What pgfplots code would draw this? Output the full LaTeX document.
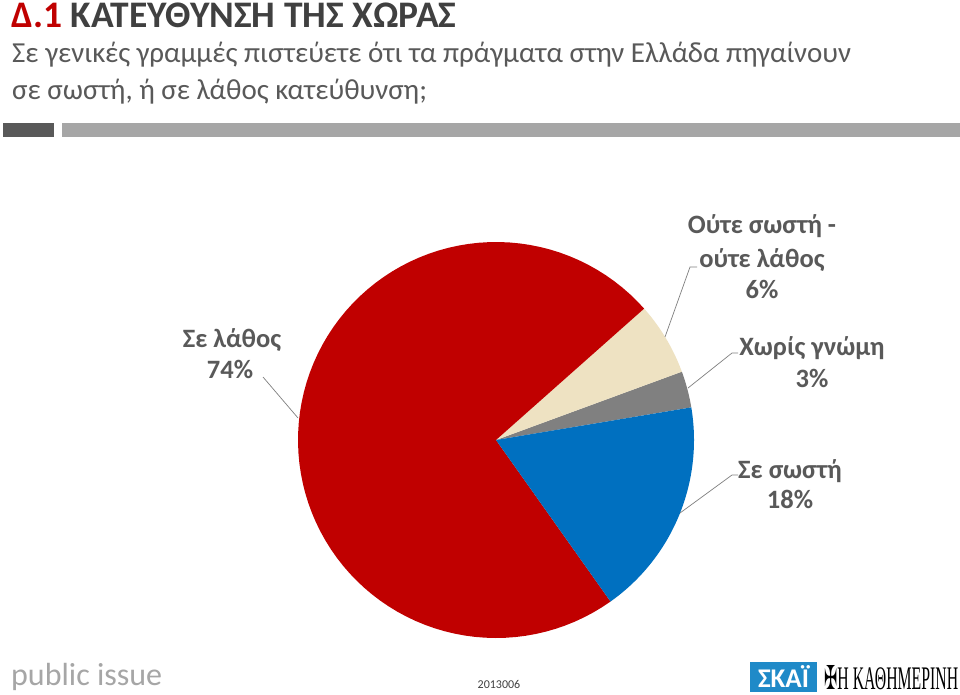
\documentclass[border=0pt]{standalone}
\usepackage{pgfplots}
\pgfplotsset{compat=1.18}
\usepackage{pgfplotstable}
\usepackage{fontspec}
\setmainfont{Carlito}
\newfontfamily\serifc{Liberation Serif}
\newfontfamily\dejavu{DejaVu Sans}
\definecolor{cred}{HTML}{C00000}
\definecolor{cbeige}{HTML}{EEE2C2}
\definecolor{cgray}{HTML}{808080}
\definecolor{cblue}{HTML}{0070C0}
\definecolor{txt}{HTML}{595959}
\definecolor{ttl}{HTML}{404040}
\definecolor{barA}{HTML}{595959}
\definecolor{barB}{HTML}{A6A6A6}
\definecolor{lead}{HTML}{808080}
\definecolor{logoblue}{HTML}{1F8AC8}
\colorlet{slice0}{cgray}
\colorlet{slice1}{cbeige}
\colorlet{slice2}{cred}
\colorlet{slice3}{cblue}
% slices counter-clockwise: Χωρίς γνώμη, Ούτε σωστή - ούτε λάθος, Σε λάθος, Σε σωστή
\pgfplotstableread{
idx value
0 3
1 6
2 74
3 18
}\piedata
\xdef\total{0}
\foreach \i in {0,...,3}{\pgfplotstablegetelem{\i}{value}\of\piedata
  \pgfmathsetmacro\tmp{\total+\pgfplotsretval}\xdef\total{\tmp}}
\xdef\cur{9.5}
\foreach \i in {0,...,3}{\pgfplotstablegetelem{\i}{value}\of\piedata
  \pgfmathsetmacro\e{\cur+(\pgfplotsretval/\total)*360}%
  \expandafter\xdef\csname sa\i\endcsname{\cur}%
  \expandafter\xdef\csname ea\i\endcsname{\e}%
  \xdef\cur{\e}}
\newcommand\fs[1]{\fontsize{#1bp}{1.2\dimexpr#1bp\relax}\selectfont}
\begin{document}
\begin{tikzpicture}[x=1bp,y=1bp]
\path[use as bounding box, fill=white] (0,0) rectangle (960,-695);
% title
\node[anchor=base west, inner sep=0pt, font=\fs{37.5}\bfseries] at (11,-28) {\textcolor{cred}{Δ.1} \textcolor{ttl}{ΚΑΤΕΥΘΥΝΣΗ ΤΗΣ ΧΩΡΑΣ}};
\node[anchor=base west, inner sep=0pt, font=\fs{29}, text=txt] at (12,-63) {Σε γενικές γραμμές πιστεύετε ότι τα πράγματα στην Ελλάδα πηγαίνουν};
\node[anchor=base west, inner sep=0pt, font=\fs{29}, text=txt] at (12,-100) {σε σωστή, ή σε λάθος κατεύθυνση;};
\fill[barA] (3,-123) rectangle (54,-137);
\fill[barB] (62,-123) rectangle (960,-137);
% pie
\begin{axis}[at={(496bp,-440bp)}, anchor=center, hide axis, scale only axis,
  width=396bp, height=396bp, xmin=-1, xmax=1, ymin=-1, ymax=1, clip=false]
\pgfplotsinvokeforeach{0,...,3}{
  \addplot[draw=none, fill=slice#1, domain={\csname sa#1\endcsname}:{\csname ea#1\endcsname}, samples=90]
    ({cos(x)},{sin(x)}) -- (axis cs:0,0) -- cycle;
}
\end{axis}
% leader lines
\draw[lead, line width=0.7bp] (263,-377) -- (298,-418);
\draw[lead, line width=0.7bp] (665,-337) -- (690,-267) -- (697,-267);
\draw[lead, line width=0.7bp] (688,-388) -- (732,-353) -- (738,-353);
\draw[lead, line width=0.7bp] (680,-513) -- (732,-475) -- (738,-475);
% labels
\begin{scope}[every node/.style={inner sep=0pt, anchor=base, text=txt, font=\fs{26.5}\bfseries}]
\node at (232,-347) {Σε λάθος};
\node at (230,-378) {74\%};
\node at (762,-233) {Ούτε σωστή -};
\node at (762,-267) {ούτε λάθος};
\node at (762,-298) {6\%};
\node at (812,-355) {Χωρίς γνώμη};
\node at (812,-387) {3\%};
\node at (790,-478) {Σε σωστή};
\node at (790,-508) {18\%};
\end{scope}
% footer
\node[anchor=base west, inner sep=0pt, font=\fs{32}, text=barB] at (11,-685) {public issue};
\node[anchor=base, inner sep=0pt, font=\fs{12}, text=ttl] at (499,-688) {2013006};
\fill[logoblue] (750,-662) rectangle (817,-692);
\node[anchor=center, inner sep=0pt, font=\fs{27}\bfseries, text=white] at (783.5,-677) {ΣΚΑΪ};
\node[anchor=base west, inner sep=0pt, text=black] at (824,-689) {\resizebox{134bp}{24bp}{{\dejavu ✠}\serifc Η ΚΑΘΗΜΕΡΙΝΗ}};
\end{tikzpicture}
\end{document}
